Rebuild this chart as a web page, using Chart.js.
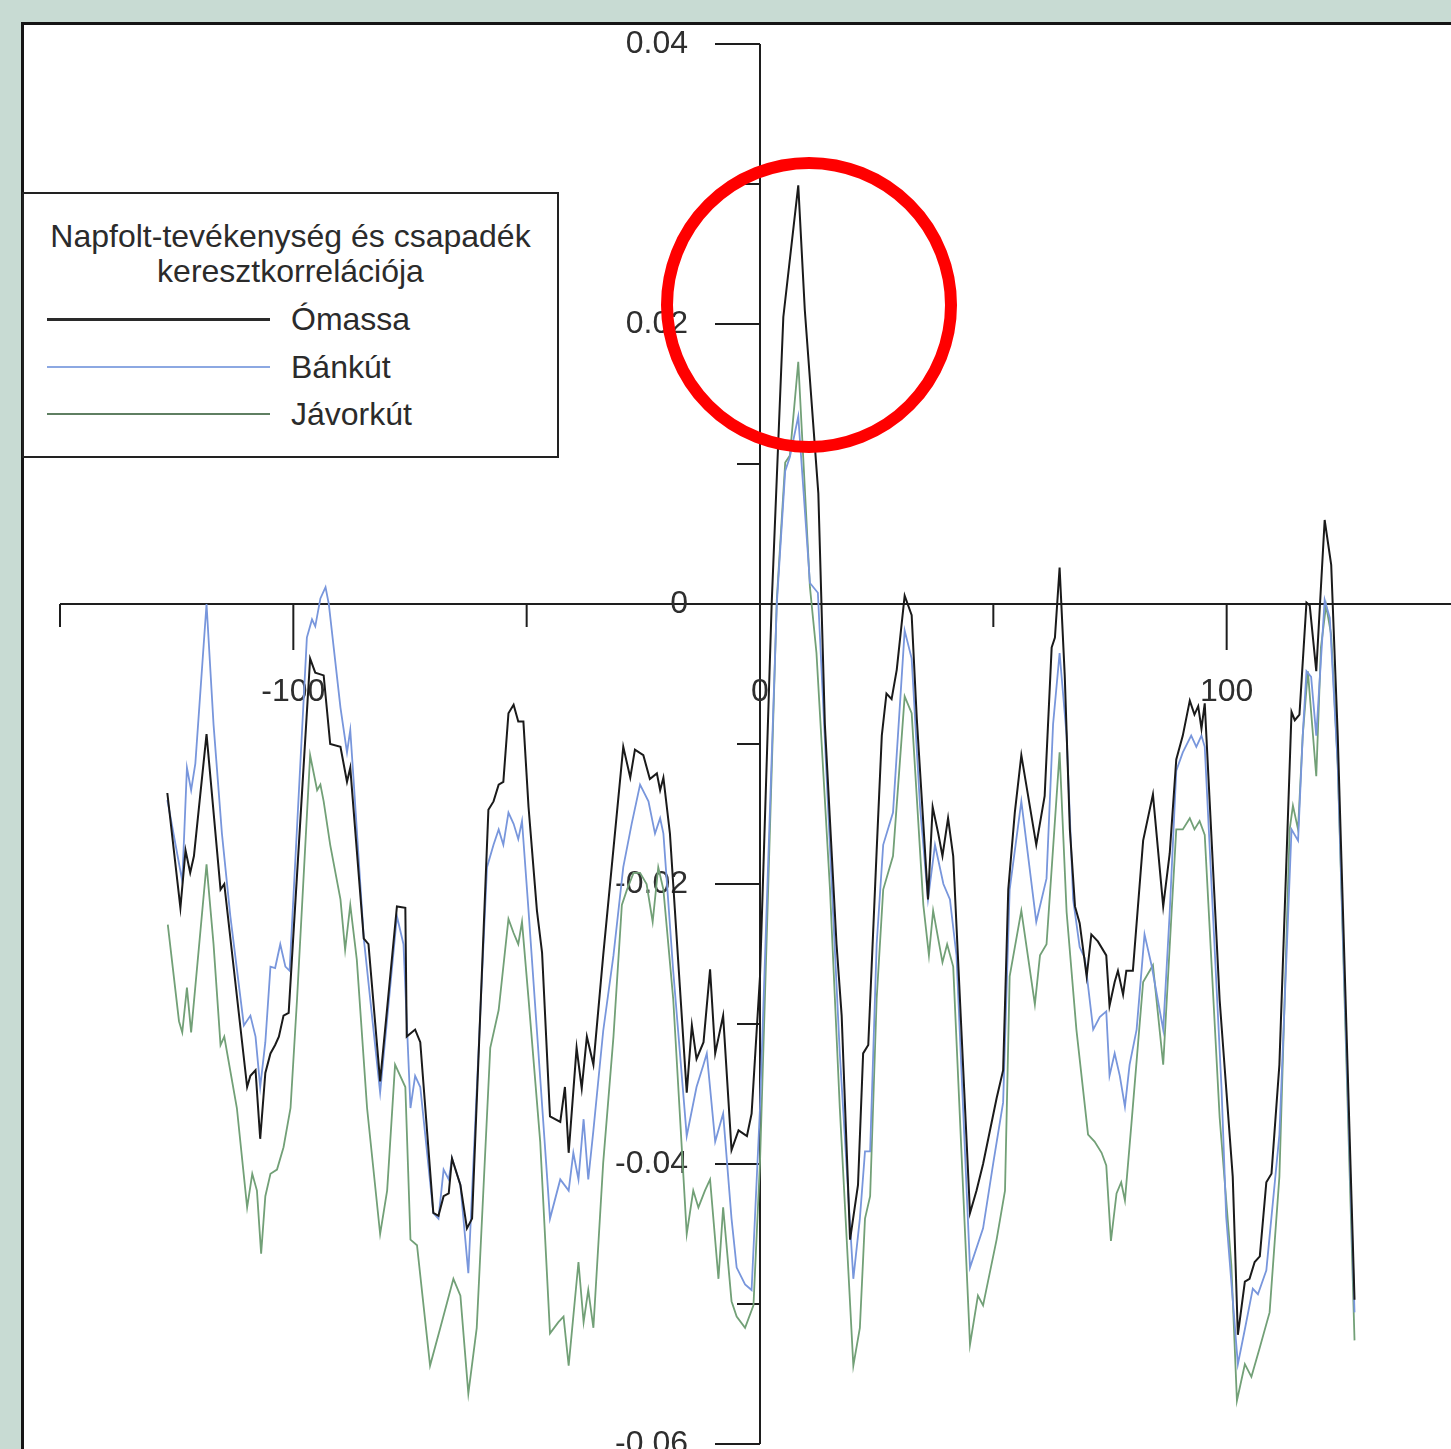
<!DOCTYPE html>
<html><head><meta charset="utf-8">
<script src="https://cdn.jsdelivr.net/npm/chart.js@4.4.1/dist/chart.umd.min.js"></script>
<style>
html,body{margin:0;padding:0;overflow:hidden;width:1451px;height:1449px;background:#c8dbd3;}
#frame{position:absolute;left:21px;top:22px;width:1500px;height:1500px;background:#fff;border:3px solid #151515;}
#wrap{position:absolute;left:0;top:0;width:1480px;height:1460px;}
#legend{position:absolute;left:22px;top:192px;width:537px;height:266px;box-sizing:border-box;border:2px solid #222;background:#fff;font-family:"Liberation Sans",Arial,sans-serif;font-size:32px;color:#2b2b2b;}
#legend .title{position:absolute;left:0;top:25px;width:100%;text-align:center;line-height:35px;}
#legend .sample{position:absolute;left:23px;width:223px;}
#legend .lab{position:absolute;left:267px;line-height:36px;white-space:nowrap;}
</style></head>
<body>
<div id="frame"></div>
<div id="wrap"><canvas id="c" width="1480" height="1460"></canvas></div>
<div id="legend"></div>
<script>
// ---- data (lag, cross-correlation) ----
const seriesNames = ['Ómassa', 'Bánkút', 'Jávorkút'];
const legendTitle = ['Napfolt-tevékenység és csapadék', 'keresztkorrelációja'];

const omassa = [
[-127.0,-0.0135],[-124.2,-0.0217],[-123.1,-0.0176],[-122.1,-0.0192],[-121.3,-0.0180],[-118.6,-0.0093],
[-115.6,-0.0204],[-114.8,-0.0200],[-109.9,-0.0345],[-109.2,-0.0337],[-108.1,-0.0333],[-107.1,-0.0382],
[-106.0,-0.0335],[-104.9,-0.0321],[-103.9,-0.0315],[-103.1,-0.0309],[-102.1,-0.0294],[-101.0,-0.0292],
[-96.4,-0.0039],[-95.3,-0.0049],[-93.5,-0.0051],[-92.1,-0.0100],[-89.9,-0.0102],[-88.5,-0.0127],
[-87.8,-0.0117],[-84.9,-0.0239],[-83.9,-0.0243],[-81.4,-0.0341],[-77.8,-0.0216],[-76.0,-0.0217],
[-75.7,-0.0309],[-73.9,-0.0304],[-72.8,-0.0313],[-70.0,-0.0435],[-68.9,-0.0437],[-67.8,-0.0423],
[-66.7,-0.0421],[-66.0,-0.0396],[-64.2,-0.0415],[-62.8,-0.0446],[-61.7,-0.0439],[-58.2,-0.0147],
[-57.1,-0.0141],[-56.0,-0.0129],[-55.0,-0.0127],[-53.9,-0.0078],[-52.8,-0.0072],[-51.8,-0.0084],
[-50.7,-0.0084],[-49.6,-0.0145],[-47.8,-0.0219],[-46.7,-0.0249],[-45.0,-0.0366],[-42.8,-0.0370],
[-41.8,-0.0345],[-41.0,-0.0392],[-39.3,-0.0317],[-38.2,-0.0346],[-37.1,-0.0309],[-35.7,-0.0329],
[-33.6,-0.0251],[-29.3,-0.0102],[-27.8,-0.0124],[-26.8,-0.0104],[-25.0,-0.0108],[-23.6,-0.0125],
[-22.1,-0.0121],[-21.4,-0.0133],[-20.7,-0.0124],[-19.3,-0.0164],[-15.7,-0.0349],[-14.6,-0.0301],
[-13.6,-0.0325],[-12.1,-0.0313],[-10.7,-0.0261],[-9.6,-0.0321],[-7.9,-0.0294],[-6.1,-0.0390],
[-4.6,-0.0376],[-2.8,-0.0380],[-1.8,-0.0364],[0.0,-0.0266],[2.5,0.0000],[5.0,0.0205],[8.2,0.0299],
[9.6,0.0210],[12.5,0.0079],[13.9,-0.0086],[16.4,-0.0243],[17.5,-0.0294],[19.3,-0.0454],[21.0,-0.0415],
[22.1,-0.0321],[23.2,-0.0315],[25.0,-0.0176],[26.1,-0.0094],[27.1,-0.0064],[28.2,-0.0068],[29.3,-0.0047],
[31.0,0.0006],[32.5,-0.0008],[33.6,-0.0082],[35.0,-0.0157],[36.0,-0.0211],[37.0,-0.0145],[38.2,-0.0164],
[39.1,-0.0180],[40.3,-0.0153],[41.4,-0.0180],[45.0,-0.0435],[46.4,-0.0419],[47.8,-0.0400],[50.7,-0.0353],
[52.1,-0.0333],[53.2,-0.0204],[54.6,-0.0149],[56.0,-0.0108],[59.2,-0.0172],[61.0,-0.0137],[62.5,-0.0031],
[63.2,-0.0024],[64.2,0.0026],[65.3,-0.0051],[66.4,-0.0161],[67.5,-0.0216],[68.5,-0.0228],[70.0,-0.0266],
[71.0,-0.0236],[72.4,-0.0241],[74.2,-0.0251],[74.9,-0.0287],[76.0,-0.0270],[76.7,-0.0262],[77.8,-0.0279],
[78.5,-0.0262],[79.9,-0.0262],[82.1,-0.0169],[84.2,-0.0136],[86.4,-0.0216],[87.8,-0.0178],[89.2,-0.0111],
[90.6,-0.0094],[92.1,-0.0069],[93.1,-0.0079],[93.9,-0.0073],[94.6,-0.0089],[95.3,-0.0071],[98.5,-0.0283],
[101.3,-0.0409],[102.4,-0.0522],[103.9,-0.0484],[104.9,-0.0482],[106.0,-0.0470],[107.1,-0.0466],
[108.5,-0.0413],[109.6,-0.0407],[111.3,-0.0329],[113.9,-0.0077],[114.6,-0.0083],[115.6,-0.0079],
[117.1,0.0001],[117.8,-0.0001],[119.2,-0.0048],[121.0,0.0060],[122.4,0.0028],[123.8,-0.0094],[127.4,-0.0497]
];

const bankut = [
[-127.0,-0.0140],[-123.8,-0.0198],[-122.8,-0.0117],[-121.9,-0.0133],[-121.0,-0.0114],[-118.6,0.0000],
[-117.1,-0.0086],[-115.3,-0.0164],[-113.5,-0.0223],[-110.6,-0.0301],[-109.2,-0.0294],[-108.1,-0.0309],
[-107.1,-0.0345],[-106.0,-0.0313],[-104.9,-0.0259],[-103.9,-0.0260],[-102.8,-0.0243],[-101.7,-0.0259],
[-100.8,-0.0262],[-97.1,-0.0024],[-96.0,-0.0011],[-95.3,-0.0016],[-94.2,0.0004],[-93.1,0.0012],
[-92.4,0.0000],[-89.9,-0.0074],[-88.5,-0.0106],[-87.8,-0.0090],[-87.1,-0.0125],[-84.9,-0.0239],
[-81.4,-0.0349],[-77.8,-0.0223],[-76.4,-0.0243],[-74.9,-0.0360],[-73.9,-0.0337],[-72.8,-0.0345],
[-70.0,-0.0435],[-68.9,-0.0439],[-67.8,-0.0404],[-66.7,-0.0411],[-66.0,-0.0396],[-64.2,-0.0415],
[-62.5,-0.0478],[-58.5,-0.0188],[-57.1,-0.0172],[-56.0,-0.0161],[-55.0,-0.0172],[-53.9,-0.0149],
[-52.8,-0.0157],[-51.8,-0.0168],[-51.0,-0.0155],[-49.6,-0.0219],[-47.8,-0.0305],[-45.0,-0.0439],
[-42.8,-0.0411],[-41.0,-0.0419],[-40.0,-0.0392],[-38.9,-0.0411],[-37.8,-0.0368],[-36.8,-0.0411],
[-35.7,-0.0376],[-33.6,-0.0305],[-31.4,-0.0251],[-29.3,-0.0188],[-27.5,-0.0157],[-25.7,-0.0129],
[-23.9,-0.0141],[-22.5,-0.0164],[-21.4,-0.0153],[-20.7,-0.0164],[-18.6,-0.0262],[-15.7,-0.0380],
[-13.6,-0.0345],[-12.1,-0.0329],[-11.4,-0.0321],[-9.6,-0.0384],[-7.9,-0.0364],[-6.1,-0.0439],
[-5.0,-0.0474],[-3.2,-0.0486],[-1.8,-0.0490],[0.0,-0.0360],[3.6,0.0000],[5.4,0.0095],[6.4,0.0105],
[8.2,0.0134],[10.7,0.0015],[12.4,0.0008],[14.3,-0.0125],[17.1,-0.0321],[20.0,-0.0482],[21.4,-0.0439],
[22.5,-0.0391],[23.6,-0.0391],[25.0,-0.0243],[26.4,-0.0172],[28.5,-0.0149],[31.0,-0.0019],[32.5,-0.0039],
[34.3,-0.0145],[36.0,-0.0211],[37.5,-0.0172],[39.3,-0.0200],[40.7,-0.0211],[42.1,-0.0251],[45.0,-0.0474],
[47.8,-0.0446],[50.0,-0.0399],[52.1,-0.0356],[53.5,-0.0204],[56.0,-0.0141],[59.2,-0.0227],[61.4,-0.0196],
[62.8,-0.0086],[64.2,-0.0035],[65.7,-0.0094],[67.1,-0.0211],[68.5,-0.0245],[69.6,-0.0253],[71.4,-0.0304],
[72.8,-0.0295],[74.2,-0.0291],[74.9,-0.0337],[76.0,-0.0321],[77.1,-0.0337],[78.2,-0.0359],[79.2,-0.0329],
[80.7,-0.0304],[82.4,-0.0236],[83.9,-0.0258],[86.4,-0.0304],[87.8,-0.0220],[89.2,-0.0119],[90.6,-0.0106],
[92.4,-0.0094],[93.5,-0.0102],[94.6,-0.0094],[95.3,-0.0102],[98.9,-0.0346],[99.9,-0.0438],[102.4,-0.0543],
[103.9,-0.0518],[105.6,-0.0489],[106.7,-0.0493],[108.5,-0.0476],[111.3,-0.0379],[113.9,-0.0161],
[115.3,-0.0169],[116.3,-0.0094],[117.1,-0.0048],[118.1,-0.0052],[119.2,-0.0094],[121.0,0.0003],
[122.1,-0.0010],[123.8,-0.0115],[126.3,-0.0388],[127.4,-0.0506]
];

const javorkut = [
[-126.9,-0.0229],[-124.5,-0.0298],[-123.8,-0.0306],[-122.8,-0.0274],[-121.9,-0.0306],[-118.6,-0.0186],
[-117.1,-0.0243],[-115.6,-0.0315],[-114.8,-0.0309],[-112.1,-0.0360],[-109.9,-0.0431],[-108.8,-0.0407],
[-107.8,-0.0419],[-106.9,-0.0464],[-106.0,-0.0423],[-104.9,-0.0407],[-103.5,-0.0404],[-102.1,-0.0388],
[-100.6,-0.0360],[-99.2,-0.0282],[-96.4,-0.0108],[-94.9,-0.0133],[-94.2,-0.0129],[-93.5,-0.0141],
[-92.1,-0.0172],[-89.9,-0.0211],[-88.9,-0.0247],[-87.8,-0.0215],[-86.4,-0.0254],[-84.2,-0.0360],
[-81.4,-0.0450],[-79.9,-0.0419],[-78.2,-0.0329],[-76.0,-0.0345],[-74.9,-0.0454],[-73.5,-0.0458],
[-70.7,-0.0544],[-68.5,-0.0517],[-65.7,-0.0482],[-64.2,-0.0494],[-62.5,-0.0564],[-60.7,-0.0517],
[-57.8,-0.0317],[-56.0,-0.0290],[-53.9,-0.0225],[-52.8,-0.0235],[-51.8,-0.0243],[-51.0,-0.0227],
[-49.6,-0.0282],[-47.1,-0.0384],[-45.0,-0.0521],[-43.2,-0.0513],[-42.1,-0.0509],[-41.0,-0.0544],
[-38.9,-0.0470],[-37.8,-0.0513],[-36.8,-0.0490],[-35.7,-0.0517],[-33.6,-0.0399],[-31.4,-0.0309],
[-29.6,-0.0215],[-28.5,-0.0204],[-27.1,-0.0192],[-25.7,-0.0192],[-24.3,-0.0200],[-23.0,-0.0227],
[-21.8,-0.0188],[-20.7,-0.0204],[-18.6,-0.0282],[-15.7,-0.0450],[-14.3,-0.0419],[-13.2,-0.0431],
[-11.8,-0.0419],[-10.7,-0.0411],[-8.9,-0.0482],[-7.9,-0.0431],[-6.1,-0.0498],[-5.0,-0.0509],
[-3.2,-0.0517],[-1.4,-0.0501],[0.0,-0.0399],[3.6,0.0003],[5.4,0.0101],[6.4,0.0106],[8.2,0.0173],
[10.7,0.0012],[12.1,-0.0035],[15.0,-0.0204],[17.1,-0.0360],[20.0,-0.0544],[21.4,-0.0517],[22.5,-0.0439],
[23.6,-0.0423],[25.0,-0.0282],[26.4,-0.0204],[28.5,-0.0180],[31.0,-0.0066],[32.5,-0.0078],[35.0,-0.0215],
[36.2,-0.0251],[37.1,-0.0219],[39.1,-0.0256],[40.1,-0.0243],[41.4,-0.0259],[45.0,-0.0529],[46.7,-0.0494],
[47.8,-0.0501],[50.7,-0.0454],[52.5,-0.0419],[53.5,-0.0266],[56.0,-0.0219],[58.9,-0.0286],[60.0,-0.0251],
[61.4,-0.0243],[64.2,-0.0106],[65.7,-0.0220],[67.8,-0.0304],[70.3,-0.0379],[71.7,-0.0384],[73.2,-0.0392],
[74.2,-0.0401],[75.2,-0.0455],[76.4,-0.0421],[77.4,-0.0413],[78.2,-0.0426],[79.6,-0.0371],[82.1,-0.0270],
[84.2,-0.0258],[86.4,-0.0329],[88.2,-0.0220],[89.2,-0.0161],[90.6,-0.0161],[92.1,-0.0153],[93.1,-0.0161],
[94.2,-0.0155],[95.3,-0.0165],[98.5,-0.0367],[101.0,-0.0472],[102.2,-0.0569],[103.9,-0.0543],
[105.3,-0.0552],[107.1,-0.0531],[109.2,-0.0506],[111.3,-0.0409],[113.5,-0.0161],[114.2,-0.0144],
[115.3,-0.0161],[116.3,-0.0094],[117.4,-0.0048],[119.2,-0.0123],[120.2,-0.0031],[121.3,-0.0001],
[122.4,-0.0022],[123.8,-0.0115],[127.4,-0.0526]
];

// ---- axes ----
const xMajorTicks = [-100, 0, 100];
const xTickLabels = ['-100', '0', '100'];
const xMinorTicks = [-150, -50, 50, 150];
const yMajorTicks = [0.04, 0.02, 0, -0.02, -0.04, -0.06];
const yTickLabels = ['0.04', '0.02', '0', '-0.02', '-0.04', '-0.06'];
const yMinorTicks = [0.03, 0.01, -0.01, -0.03, -0.05];

// annotation (red circle) centre in data units
const highlight = { lag: 10.5, value: 0.02136, radiusPx: 142 };

const colors = ['#1a1a1a', '#7896dc', '#72a077'];
const widths = [2, 1.8, 1.8];
const legendColors = ['#2a2a2a', '#8ca8e2', '#5f7f62'];
const legendWidths = [3, 2, 2];

// ---- legend (HTML) ----
(function buildLegend(){
  const L = document.getElementById('legend');
  const t = document.createElement('div'); t.className = 'title';
  t.innerHTML = legendTitle.join('<br>');
  L.appendChild(t);
  const rows = [125, 173, 220];
  seriesNames.forEach((n, i) => {
    const s = document.createElement('div'); s.className = 'sample';
    s.style.top = (rows[i] - 1) + 'px';
    s.style.height = legendWidths[i] + 'px';
    s.style.background = legendColors[i];
    L.appendChild(s);
    const l = document.createElement('div'); l.className = 'lab';
    l.style.top = (rows[i] - 18) + 'px';
    l.textContent = n;
    L.appendChild(l);
  });
})();

const FONT = '32px "Liberation Sans", Arial, sans-serif';

const crossAxes = {
  id: 'crossAxes',
  beforeDatasetsDraw(chart) {
    const {ctx, scales: {x, y}} = chart;
    const x0 = x.getPixelForValue(0), y0 = y.getPixelForValue(0);
    ctx.save();
    ctx.strokeStyle = '#1e1e1e';
    ctx.lineWidth = 2;
    ctx.beginPath();
    ctx.moveTo(x.getPixelForValue(x.min), y0); ctx.lineTo(x.getPixelForValue(x.max), y0);
    ctx.moveTo(x0, y.getPixelForValue(y.max)); ctx.lineTo(x0, y.getPixelForValue(y.min));
    yMajorTicks.forEach(v => { const p = y.getPixelForValue(v); ctx.moveTo(x0 - 45, p); ctx.lineTo(x0, p); });
    yMinorTicks.forEach(v => { const p = y.getPixelForValue(v); ctx.moveTo(x0 - 23, p); ctx.lineTo(x0, p); });
    xMajorTicks.forEach(v => { if (v === 0) return; const p = x.getPixelForValue(v); ctx.moveTo(p, y0); ctx.lineTo(p, y0 + 46); });
    xMinorTicks.forEach(v => { const p = x.getPixelForValue(v); ctx.moveTo(p, y0); ctx.lineTo(p, y0 + 23); });
    ctx.stroke();
    ctx.fillStyle = '#2e2e2e';
    ctx.font = FONT;
    ctx.textBaseline = 'middle';
    ctx.textAlign = 'right';
    yMajorTicks.forEach((v, i) => ctx.fillText(yTickLabels[i], x0 - 72, y.getPixelForValue(v)));
    ctx.textAlign = 'center';
    xMajorTicks.forEach((v, i) => ctx.fillText(xTickLabels[i], x.getPixelForValue(v), y0 + 88));
    ctx.restore();
  }
};

const circlePlugin = {
  id: 'circle',
  afterDatasetsDraw(chart) {
    const {ctx, scales: {x, y}} = chart;
    ctx.save();
    ctx.strokeStyle = '#ff0000';
    ctx.lineWidth = 12;
    ctx.beginPath();
    ctx.arc(x.getPixelForValue(highlight.lag), y.getPixelForValue(highlight.value), highlight.radiusPx, 0, Math.PI * 2);
    ctx.stroke();
    ctx.restore();
  }
};

const toXY = arr => arr.map(p => ({x: p[0], y: p[1]}));
const all = [omassa, bankut, javorkut];

new Chart(document.getElementById('c'), {
  type: 'line',
  data: {
    datasets: all.map((d, i) => ({
      label: seriesNames[i],
      data: toXY(d),
      borderColor: colors[i],
      borderWidth: widths[i],
      pointRadius: 0,
      tension: 0,
      fill: false
    }))
  },
  options: {
    responsive: false,
    animation: false,
    devicePixelRatio: 1,
    layout: { padding: { left: 60, top: 44, right: 20, bottom: 16 } },
    scales: {
      x: { type: 'linear', min: -150, max: 150, display: false },
      y: { type: 'linear', min: -0.06, max: 0.04, display: false }
    },
    plugins: { legend: { display: false }, tooltip: { enabled: false } }
  },
  plugins: [crossAxes, circlePlugin]
});
</script>
</body></html>
